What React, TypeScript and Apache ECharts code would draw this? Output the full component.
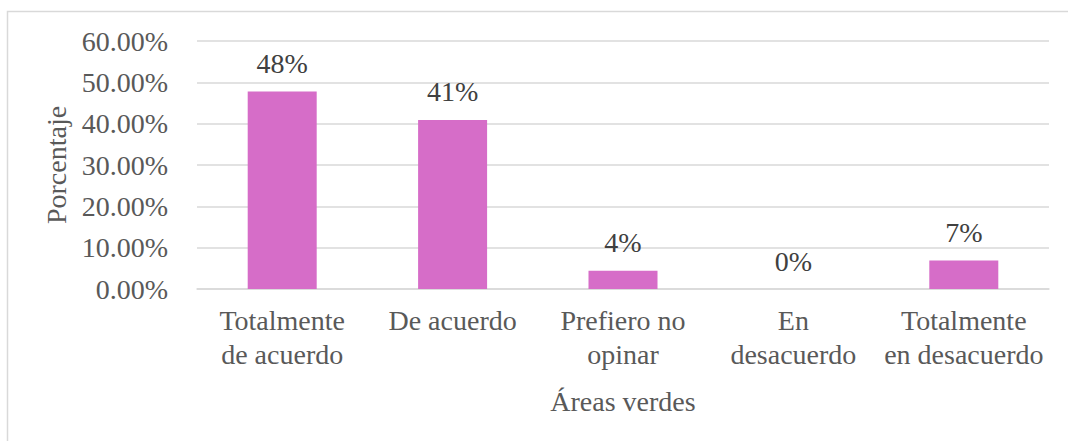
import React, { useEffect, useRef } from "react";
import * as echarts from "echarts";

const categories = [
  "Totalmente\nde acuerdo",
  "De acuerdo",
  "Prefiero no\nopinar",
  "En\ndesacuerdo",
  "Totalmente\nen desacuerdo",
];
const values = [0.478, 0.409, 0.044, 0, 0.069];
const yAxisName = "Porcentaje";
const xAxisName = "Áreas verdes";

const FONT = "'Times New Roman', 'Liberation Serif', serif";
const TEXT = "#595959";

export default function App() {
  const ref = useRef<HTMLDivElement>(null);
  useEffect(() => {
    if (!ref.current) return;
    const chart = echarts.init(ref.current, null, { renderer: "svg" });
    chart.setOption({
      animation: false,
      backgroundColor: "#ffffff",
      textStyle: { fontFamily: FONT },
      graphic: [
        {
          type: "rect",
          shape: { x: 7.5, y: 11.5, width: 1200, height: 600 },
          style: { fill: "none", stroke: "#d9d9d9", lineWidth: 1.5 },
          silent: true,
        },
      ],
      grid: { left: 197, right: 19, top: 41, bottom: 152, containLabel: false },
      xAxis: {
        type: "category",
        data: categories,
        name: xAxisName,
        nameLocation: "middle",
        nameGap: 98,
        nameTextStyle: { fontFamily: FONT, fontSize: 28, color: TEXT },
        axisLine: { show: true, lineStyle: { color: "#d9d9d9", width: 1.5 } },
        axisTick: { show: false },
        axisLabel: {
          fontFamily: FONT,
          fontSize: 28,
          color: TEXT,
          lineHeight: 34,
          margin: 14,
          interval: 0,
        },
      },
      yAxis: {
        type: "value",
        min: 0,
        max: 0.6,
        interval: 0.1,
        name: yAxisName,
        nameLocation: "middle",
        nameGap: 126,
        nameRotate: 90,
        nameTextStyle: { fontFamily: FONT, fontSize: 28, color: TEXT },
        axisLine: { show: false },
        axisTick: { show: false },
        splitLine: { lineStyle: { color: "#d9d9d9", width: 1.5 } },
        axisLabel: {
          fontFamily: FONT,
          fontSize: 28,
          color: TEXT,
          margin: 29,
          formatter: (v: number) => (v * 100).toFixed(2) + "%",
        },
      },
      series: [
        {
          type: "bar",
          data: values,
          barWidth: 69,
          itemStyle: { color: "#D66DC8" },
          label: {
            show: true,
            position: "top",
            distance: 14,
            fontFamily: FONT,
            fontSize: 28,
            color: "#404040",
            formatter: (p: any) => Math.round(p.value * 100) + "%",
          },
        },
      ],
    });
    return () => chart.dispose();
  }, []);
  return (
    <div
      ref={ref}
      style={{ position: "fixed", left: 0, top: 0, width: 1068, height: 441 }}
    />
  );
}
